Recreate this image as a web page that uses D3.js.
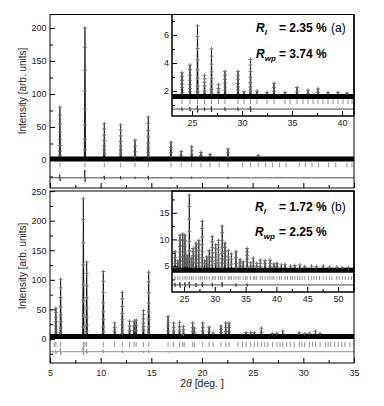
<!DOCTYPE html>
<html><head><meta charset="utf-8">
<script src="https://cdn.jsdelivr.net/npm/d3@7"></script>
<style>body{margin:0;background:#fff} svg{display:block} text{font-family:"Liberation Sans",Arial,sans-serif}</style>
</head><body><svg id="c" width="384" height="406"></svg>
<script>
// ---------- DATA ----------
// panel (a): peak positions (2θ) and peak-top intensities
const peaksA_pos = [5.98, 8.45, 10.36, 11.97, 13.39, 14.7, 16.94, 17.95, 18.98, 19.9, 20.8, 21.7, 22.57, 24.0, 24.8, 25.55, 26.25, 26.95, 27.65, 28.3, 29.6, 30.2, 30.85, 31.5, 32.5, 33.2, 34.3, 35.5, 36.6, 37.6, 38.6, 39.6, 40.5];
const peaksA_int = [80, 200, 55, 53, 30, 65, 27, 13, 20, 11.5, 8.5, 5, 16.5, 3.3, 3.85, 6.65, 3.1, 5.0, 2.45, 3.4, 3.4, 1.95, 4.25, 2.0, 1.9, 2.55, 1.9, 2.25, 2.05, 2.15, 1.9, 1.9, 1.85];
const backgroundA = 1.6;
const braggA = [5.98, 8.45, 10.36, 11.97, 13.39, 14.7, 16.94, 17.95, 18.98, 19.9, 20.8, 21.7, 22.57, 24.0, 24.8, 25.55, 26.25, 26.95, 27.65, 28.3, 29.6, 30.2, 30.85, 31.5, 32.5, 33.2, 34.3, 34.8, 35.5, 36.1, 36.6, 37.1, 37.6, 38.1, 38.6, 39.1, 39.6, 40.1, 40.6, 41.0];
const diffA_pos = [5.98, 8.45, 10.36, 11.97, 13.39, 14.7, 16.94, 18.98, 22.57, 24.0, 24.8, 25.55, 26.25, 26.95, 28.3, 29.6, 30.85];
const diffA_up  = [5, 12, 3, 2.5, 1.5, 3, 1.5, 1.5, 1.5, 0.12, 0.15, 0.25, 0.12, 0.2, 0.12, 0.12, 0.2];
const diffA_dn  = [5, 6, 3, 2.5, 1.5, 3, 1.5, 1.5, 1.5, 0.12, 0.15, 0.25, 0.12, 0.2, 0.12, 0.12, 0.2];

// panel (b)
const peaksB_pos = [5.58, 6.05, 8.29, 8.62, 10.26, 11.38, 12.14, 12.85, 13.3, 13.5, 14.22, 14.74, 16.65, 17.2, 17.78, 18.17, 19.08, 19.25, 20.07, 20.7, 21.1, 21.87, 22.34, 22.67, 23.55, 24.0, 24.35, 24.8, 25.16, 25.5, 25.86, 26.2, 26.5, 26.95, 27.4, 27.97, 28.35, 28.7, 29.1, 29.6, 30.14, 30.6, 31.2, 31.65, 32.2, 32.7, 33.44, 34.1, 34.6, 35.25, 35.8, 36.25, 36.8, 37.4, 38.15, 38.96, 39.6, 40.1, 40.8, 41.4, 42.3, 43.0, 43.8, 44.6, 45.7, 46.5, 47.6, 48.6, 49.8, 50.7, 51.7];
const peaksB_int = [52, 101, 237, 130, 114, 27, 79, 30, 30, 32, 48, 113, 38, 27, 28, 21, 27, 18, 27, 20, 10, 22, 27, 27, 7.7, 6, 10.8, 11, 10.8, 7, 18.3, 6.5, 8.3, 9.3, 9.8, 13.4, 6, 6.75, 7.9, 10.5, 9, 9.8, 12.5, 9.3, 7.9, 7.3, 7.7, 6.2, 5.8, 8.3, 5.6, 6.5, 5.5, 6.1, 6, 6.1, 5.4, 5.5, 5.2, 5.3, 5.0, 5.1, 5.2, 4.9, 5.0, 4.9, 5.0, 4.8, 4.8, 4.7, 4.7];
const backgroundB = 4.2;
const braggB = [5.42, 5.58, 6.05, 8.29, 8.45, 8.62, 10.26, 11.38, 12.14, 12.85, 13.3, 13.5, 14.22, 14.74, 16.65, 17.2, 17.78, 18.1, 18.25, 19.08, 19.25, 20.07, 20.7, 21.1, 21.87, 22.34, 22.67, 23.55, 24.0, 24.35, 24.8, 25.16, 25.5, 25.86, 26.2, 26.5, 26.95, 27.4, 27.7, 27.97, 28.35, 28.7, 29.1, 29.6, 29.85, 30.14, 30.6, 30.9, 31.2, 31.65, 32.2, 32.45, 32.7, 33.1, 33.44, 33.8, 34.1, 34.6, 35.0, 35.25, 35.8, 36.25, 36.5, 36.8, 37.4, 37.7, 38.15, 38.6, 38.96, 39.3, 39.6, 40.1, 40.5, 40.8, 41.4, 41.8, 42.3, 42.6, 43.0, 43.4, 43.8, 44.2, 44.6, 45.2, 45.7, 46.1, 46.5, 47.0, 47.6, 48.1, 48.6, 49.0, 49.8, 50.2, 50.7, 51.2, 51.7, 52.2];
const diffB_pos = [5.58, 6.05, 8.29, 8.62, 10.26, 12.14, 14.22, 14.74, 16.65, 23.55, 24.35, 25.16, 25.86, 26.95, 27.97, 29.6, 31.2, 33.44, 35.25];
const diffB_up  = [3, 6, 8, 4, 3, 2.5, 1.5, 3, 1.5, 0.4, 0.5, 0.5, 0.6, 0.4, 0.5, 0.4, 0.5, 0.3, 0.3];
const diffB_dn  = [3, 5, 6, 3, 2, 2, 1.5, 2, 1.5, 0.3, 0.5, 0.4, 0.6, 0.4, 0.4, 0.3, 0.4, 0.3, 0.3];

// axis ticks
const xMainMajor = [5, 10, 15, 20, 25, 30, 35];
const xMainMinor = [7.5, 12.5, 17.5, 22.5, 27.5, 32.5];
const yAMajor = [0, 50, 100, 150, 200];
const yAMinor = [-25, 25, 75, 125, 175];
const yBMajor = [0, 50, 100, 150, 200, 250];
const yBMinor = [-25, 25, 75, 125, 175, 225];
const xInsAMajor = [25, 30, 35, 40];
const xInsAMinor = [27.5, 32.5, 37.5];
const yInsAMajor = [2, 4, 6];
const yInsAMinor = [1, 3, 5, 7];
const xInsBMajor = [25, 30, 35, 40, 45, 50];
const xInsBMinor = [27.5, 32.5, 37.5, 42.5, 47.5, 52.5];
const yInsBMajor = [5, 10, 15];
const yInsBMinor = [2.5, 7.5, 12.5, 17.5];

// ---------- LAYOUT ----------
const svg = d3.select("#c");
const L = 50, R = 354, aTop = 14.5, aBot = 188, bTop = 191, bBot = 363;
const insL = 172, insAbot = 116, insBbot = 292;

const xMain = d3.scaleLinear([5, 35], [L, R]);
const yA = d3.scaleLinear([-42.4, 220.45], [aBot, aTop]);
const yB = d3.scaleLinear([-40.6, 250.2], [bBot, bTop]);
const xIA = d3.scaleLinear([23, 41.2], [insL, R]);
const yIA = d3.scaleLinear([0.214, 7.464], [insAbot, aTop]);
const xIB = d3.scaleLinear([23.05, 52.6], [insL, R]);
const yIB = d3.scaleLinear([0.13, 19.08], [insBbot, bTop]);

const crossFrac = [1, 0.85, 0.68, 0.52, 0.38, 0.26, 0.15, 0.07];
let clipId = 0;

function drawPattern(x, y, o) {
  const [x0, x1] = x.domain();
  const [ry0, ry1] = y.range();
  const id = "clip" + (clipId++);
  svg.append("clipPath").attr("id", id).append("rect")
    .attr("x", x.range()[0]).attr("y", ry1).attr("width", x.range()[1] - x.range()[0]).attr("height", ry0 - ry1);
  const g = svg.append("g").attr("clip-path", `url(#${id})`);
  // Bragg ticks
  g.selectAll(null).data(o.bragg).join("line")
    .attr("x1", d => x(d)).attr("x2", d => x(d))
    .attr("y1", y(o.braggHi)).attr("y2", y(o.braggLo))
    .attr("stroke", "#777").attr("stroke-width", 0.8);
  // difference curve
  const dp = [[x0, o.dOff]];
  o.dPos.forEach((p, i) => {
    dp.push([p - 0.05, o.dOff], [p - 0.012, o.dOff + o.dUp[i]], [p + 0.012, o.dOff - o.dDn[i]], [p + 0.05, o.dOff]);
  });
  dp.push([x1, o.dOff]);
  g.append("path").datum(dp).attr("fill", "none").attr("stroke", o.diffColor).attr("stroke-width", 0.9)
    .attr("d", d3.line().x(d => x(d[0])).y(d => y(d[1])));
  // background band (dense observed points)
  g.append("path").datum([x0, x1]).attr("fill", "none").attr("stroke", "#000").attr("stroke-width", 5)
    .attr("d", d3.line().x(d => x(d)).y(() => y(o.bg)));
  // calculated peaks
  const hw = o.hw;
  g.selectAll(null).data(o.pos.map((p, i) => [p, o.ints[i]])).join("path")
    .attr("fill", "#000").attr("stroke", "#000").attr("stroke-width", 0.7)
    .attr("d", d => d3.line().x(e => x(e[0])).y(e => y(e[1]))([[d[0] - hw, o.bg], [d[0], d[1]], [d[0] + hw, o.bg]]));
  // observed crosses, skipping ones that would pile onto each other
  const pts = [];
  const yBand = y(o.bg);
  o.pos.forEach((p, i) => {
    let last = null;
    crossFrac.forEach(f => {
      const v = o.bg + f * (o.ints[i] - o.bg);
      const cy = y(v);
      if (yBand - cy < 2.5) return;
      if (last !== null && cy - last < 3) return;
      last = cy;
      pts.push([p, v]);
    });
  });
  g.selectAll(null).data(pts).join("path")
    .attr("fill", "none").attr("stroke", "#6a6a6a").attr("stroke-width", 0.9)
    .attr("d", d => { const cx = x(d[0]), cy = y(d[1]); return `M${cx-2},${cy}H${cx+2}M${cx},${cy-2}V${cy+2}`; });
}

function drawAxes(x, y, o) {
  const [xr0, xr1] = x.range();
  const [yr0, yr1] = y.range();
  const styl = g => { g.select(".domain").remove(); g.selectAll("text").attr("font-size", 9).attr("fill", "#222").style("font-family", "'Liberation Sans',Arial,sans-serif"); g.selectAll("line").attr("stroke", "#000"); };
  svg.append("g").attr("transform", `translate(0,${yr0})`)
    .call(d3.axisBottom(x).tickValues(o.xMajor).tickSize(-5).tickPadding(o.xPad).tickFormat(o.xLabels ? d3.format("d") : ""))
    .call(styl);
  svg.append("g").attr("transform", `translate(0,${yr0})`)
    .call(d3.axisBottom(x).tickValues(o.xMinor).tickSize(-3).tickFormat("")).call(styl);
  svg.append("g").attr("transform", `translate(${xr0},0)`)
    .call(d3.axisLeft(y).tickValues(o.yMajor).tickSize(-5).tickPadding(o.yPad).tickFormat(d3.format("d")))
    .call(styl);
  svg.append("g").attr("transform", `translate(${xr0},0)`)
    .call(d3.axisLeft(y).tickValues(o.yMinor).tickSize(-3).tickFormat("")).call(styl);
}

function frame(x0, y0, x1, y1, fill) {
  svg.append("rect").attr("x", x0).attr("y", y0).attr("width", x1 - x0).attr("height", y1 - y0)
    .attr("fill", fill || "none").attr("stroke", "#000").attr("stroke-width", 1);
}

// ---------- PANEL (a) ----------
drawPattern(xMain, yA, {pos: peaksA_pos, ints: peaksA_int, bg: backgroundA, bragg: braggA, braggLo: -11, braggHi: -4,
  dPos: diffA_pos, dUp: diffA_up, dDn: diffA_dn, dOff: -27, diffColor: "#333", hw: 0.07});
drawAxes(xMain, yA, {xMajor: xMainMajor, xMinor: xMainMinor, yMajor: yAMajor, yMinor: yAMinor, xLabels: false, xPad: 7, yPad: 3.5});
frame(insL, aTop, R, insAbot, "#fff");
drawPattern(xIA, yIA, {pos: peaksA_pos, ints: peaksA_int, bg: backgroundA, bragg: braggA, braggLo: 1.07, braggHi: 1.43,
  dPos: diffA_pos, dUp: diffA_up, dDn: diffA_dn, dOff: 0.71, diffColor: "#333", hw: 0.07});
drawAxes(xIA, yIA, {xMajor: xInsAMajor, xMinor: xInsAMinor, yMajor: yInsAMajor, yMinor: yInsAMinor, xLabels: true, xPad: 4, yPad: 3});
frame(insL, aTop, R, insAbot);
frame(L, aTop, R, aBot);

// ---------- PANEL (b) ----------
drawPattern(xMain, yB, {pos: peaksB_pos, ints: peaksB_int, bg: backgroundB, bragg: braggB, braggLo: -13.5, braggHi: -5,
  dPos: diffB_pos, dUp: diffB_up, dDn: diffB_dn, dOff: -21.5, diffColor: "#888", hw: 0.07});
drawAxes(xMain, yB, {xMajor: xMainMajor, xMinor: xMainMinor, yMajor: yBMajor, yMinor: yBMinor, xLabels: true, xPad: 7, yPad: 3.5});
frame(insL, bTop, R, insBbot, "#fff");
drawPattern(xIB, yIB, {pos: peaksB_pos, ints: peaksB_int, bg: backgroundB, bragg: braggB, braggLo: 2.4, braggHi: 3.1,
  dPos: diffB_pos, dUp: diffB_up, dDn: diffB_dn, dOff: 1.45, diffColor: "#333", hw: 0.07});
drawAxes(xIB, yIB, {xMajor: xInsBMajor, xMinor: xInsBMinor, yMajor: yInsBMajor, yMinor: yInsBMinor, xLabels: true, xPad: 3.5, yPad: 2.5});
frame(insL, bTop, R, insBbot);
frame(L, bTop, R, bBot);

// ---------- TEXT ----------
function rText(xp, yb, sub, val, tag) {
  const t = svg.append("text").attr("x", xp).attr("y", yb).attr("font-size", 12).attr("font-weight", "bold");
  t.append("tspan").attr("font-style", "italic").text("R");
  t.append("tspan").attr("font-style", "italic").attr("font-size", 8).attr("dy", 3).text(sub);
  svg.append("text").attr("x", 279).attr("y", yb).attr("font-size", 12).attr("font-weight", "bold").text("= " + val + " %");
  if (tag) svg.append("text").attr("x", 331).attr("y", yb).attr("font-size", 12).text(tag);
}
rText(256, 32, "I", "2.35", "(a)");
rText(256, 58, "wp", "3.74", null);
rText(255, 211, "I", "1.72", "(b)");
rText(255, 236, "wp", "2.25", null);

svg.append("text").attr("transform", "translate(26,91) rotate(-90)").attr("text-anchor", "middle")
  .attr("font-size", 10).attr("fill", "#222").text("Intensity [arb. units]");
svg.append("text").attr("transform", "translate(26,266) rotate(-90)").attr("text-anchor", "middle")
  .attr("font-size", 10).attr("fill", "#222").text("Intensity [arb. units]");
const xl = svg.append("text").attr("x", 202).attr("y", 387).attr("text-anchor", "middle").attr("font-size", 10.5).attr("fill", "#222");
xl.append("tspan").text("2");
xl.append("tspan").attr("font-style", "italic").text("θ");
xl.append("tspan").text(" [deg. ]");
</script>
</body></html>
